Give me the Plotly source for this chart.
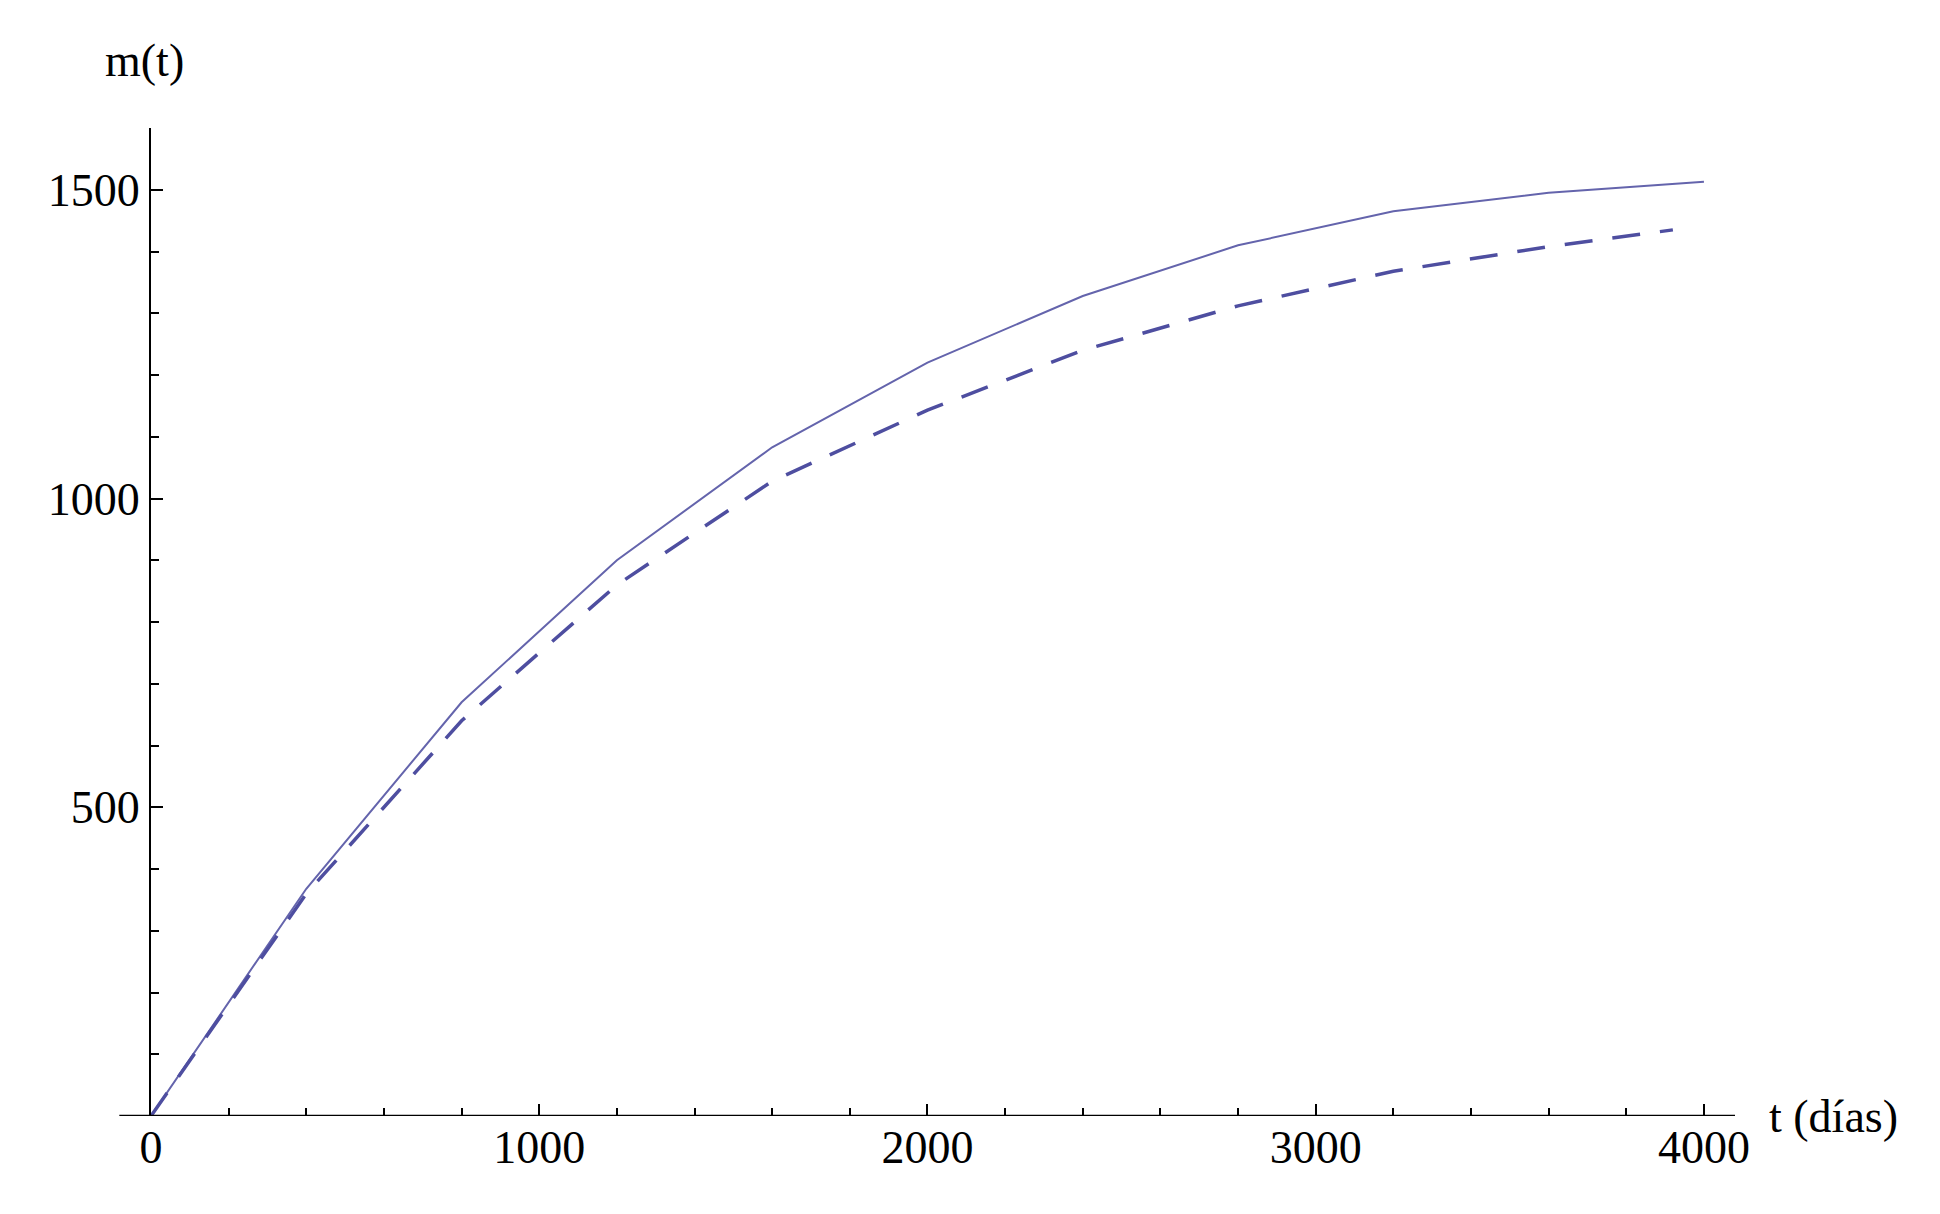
import plotly.graph_objects as go

t_solid = [0, 400, 800, 1200, 1600, 2000, 2400, 2800, 3200, 3600, 4000]
m_solid = [0, 368, 670, 900, 1083, 1220, 1328, 1410, 1465, 1495, 1513]
t_dash = [0, 400, 800, 1200, 1600, 2000, 2400, 2800, 3200, 3600, 3920]
m_dash = [0, 360, 640, 860, 1028, 1143, 1240, 1312, 1368, 1408, 1435]

font = dict(family="Liberation Serif", size=46, color="black")
fig = go.Figure()
fig.add_trace(go.Scatter(x=t_solid, y=m_solid, mode="lines",
                         line=dict(color="#6464ac", width=2)))
fig.add_trace(go.Scatter(x=t_dash, y=m_dash, mode="lines",
                         line=dict(color="#4e4ea0", width=3.5, dash="28px,20px")))
fig.update_layout(
    width=1940, height=1214, showlegend=False,
    paper_bgcolor="white", plot_bgcolor="white",
    margin=dict(l=143, r=213, t=120, b=106),
    xaxis=dict(range=[0, 4080], showgrid=False, zeroline=False, showline=False,
               tickvals=[0, 1000, 2000, 3000, 4000], ticks="inside", ticklen=12,
               tickcolor="black", tickwidth=1.5, tickfont=font,
               minor=dict(tickvals=[200, 400, 600, 800, 1200, 1400, 1600, 1800, 2200, 2400, 2600, 2800, 3200, 3400, 3600, 3800],
                          ticks="inside", ticklen=8, tickcolor="black", tickwidth=1.5)),
    yaxis=dict(range=[0, 1600], showgrid=False, zeroline=False, showline=True,
               linecolor="black", linewidth=2,
               tickvals=[500, 1000, 1500], ticks="inside", ticklen=12,
               tickcolor="black", tickwidth=1.5, tickfont=font,
               minor=dict(tickvals=[100, 200, 300, 400, 600, 700, 800, 900, 1100, 1200, 1300, 1400],
                          ticks="inside", ticklen=8, tickcolor="black", tickwidth=1.5)),
    shapes=[dict(type="line", xref="paper", yref="y", x0=-0.02, x1=1, y0=0, y1=0,
                 line=dict(color="black", width=2.5))],
    annotations=[
        dict(text="m(t)", xref="paper", yref="paper", x=-0.004, y=1.0, yshift=40,
             xanchor="center", yanchor="bottom", showarrow=False, font=font),
        dict(text="t (días)", xref="paper", yref="y", x=1.02, y=0,
             xanchor="left", yanchor="middle", showarrow=False, font=font),
    ],
)
fig.write_html("out.html")
